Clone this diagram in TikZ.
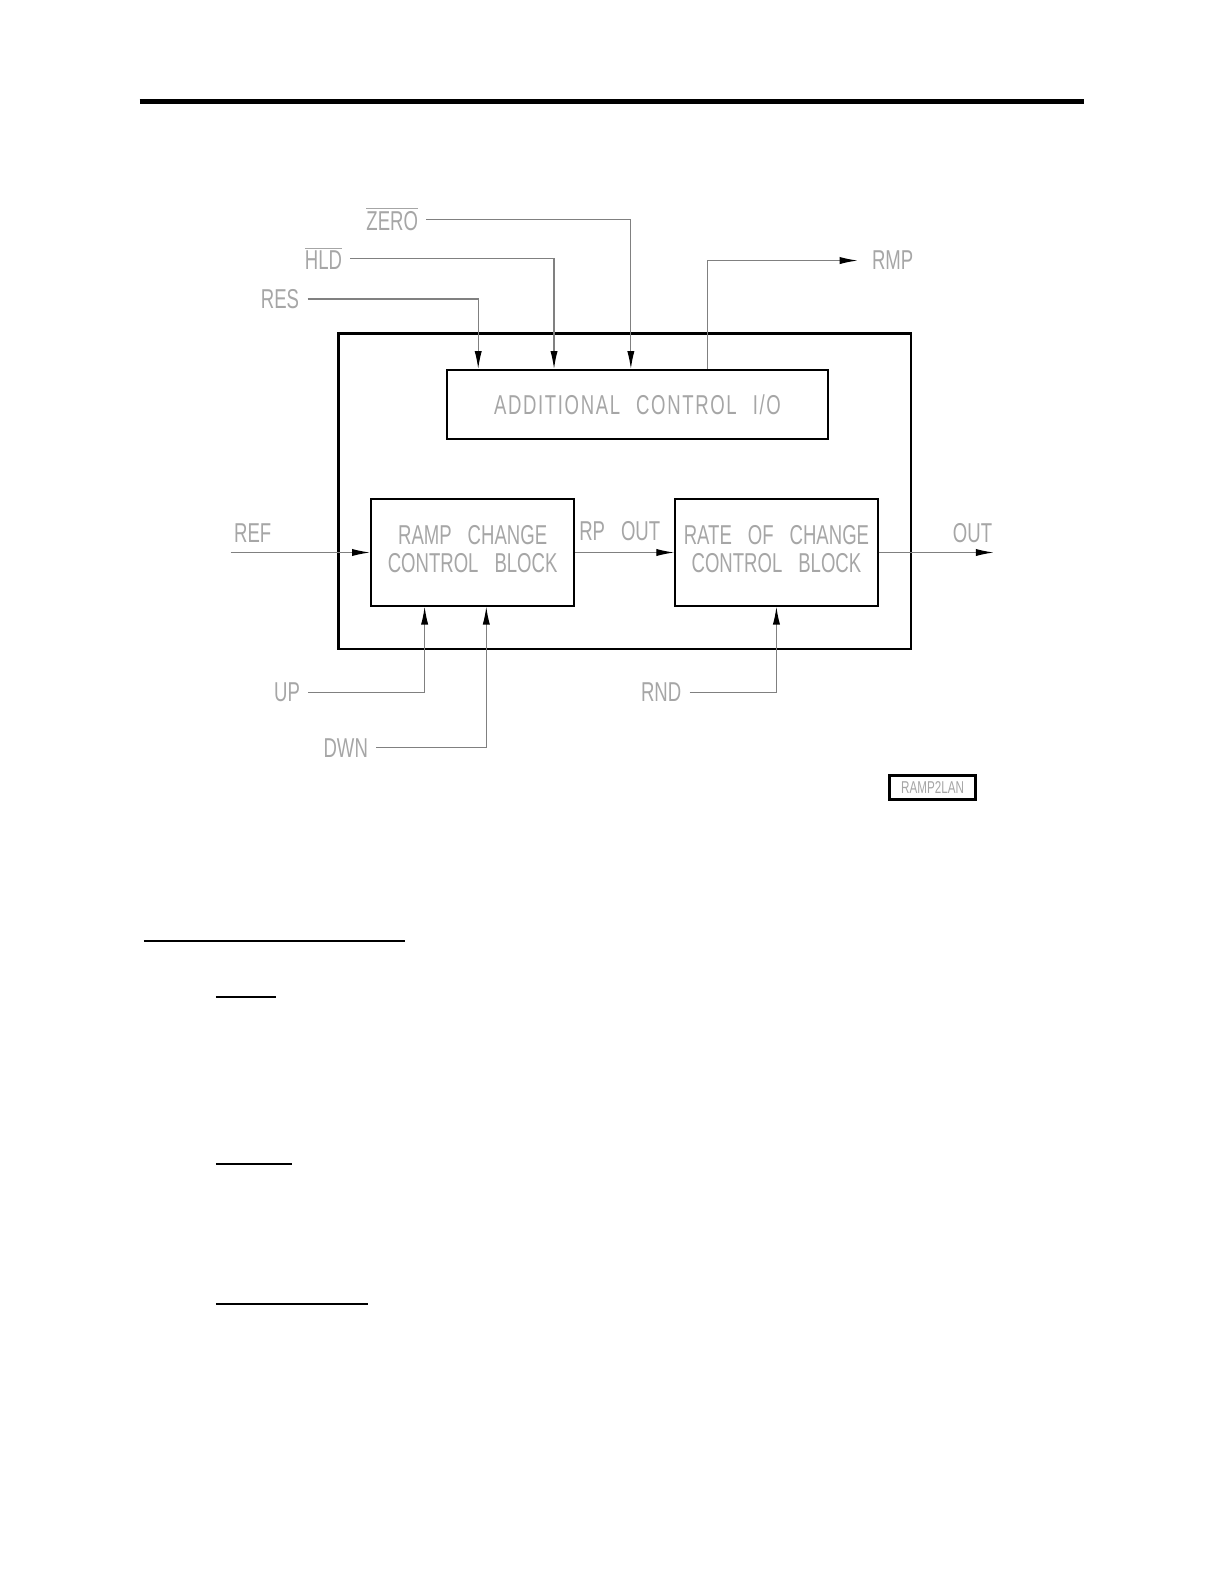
\documentclass[tikz,border=0pt]{standalone}
\usepackage{fontspec}
\setmainfont[FakeStretch=0.68]{Liberation Sans}
\usetikzlibrary{arrows.meta, positioning}
\def\px{0.5055bp}
\def\gap{\hspace{8bp}}
\newcommand{\ovl}[1]{$\overline{\mbox{#1}}$}

\begin{document}
\begin{tikzpicture}[x=\px, y=-\px, font=\fontsize{13.7}{14}\selectfont]
    \tikzstyle{block}=[rectangle, draw=black, line width=1bp, inner sep=0pt, text=black!35, align=center]
    \tikzstyle{pinlabel}=[text=black!35, inner sep=4bp, anchor=base]
    \tikzstyle{sig}=[draw=black!50, line width=0.6bp]
    \tikzstyle{sigin}=[sig, -{Latex[length=9bp, width=3.6bp, color=black]}]

    \useasboundingbox (0,0) rectangle (1210.7,1566.8);

    % page rules
    \draw[line width=2.5bp] (138,100.4) -- (1072,100.4);

    % blocks
    \node[block, line width=1.3bp, minimum width=566*\px, minimum height=312*\px] (chip) at (618,486) {};
    \node[block, minimum width=377*\px, minimum height=68*\px] (aci) at (630.5,400) {\addfontfeatures{LetterSpace=6}ADDITIONAL\gap CONTROL\gap I/O};
    \node[block, minimum width=201*\px, minimum height=105*\px, text depth=3.5bp] (ramp) at (467.5,546.5) {RAMP\gap CHANGE\\CONTROL\gap BLOCK};
    \node[block, minimum width=200*\px, minimum height=105*\px, text depth=3.5bp] (rate) at (768,546.5) {RATE\gap OF\gap CHANGE\\CONTROL\gap BLOCK};

    % signal names
    \node[pinlabel] (zero) at (388,228) {\ovl{ZERO}};
    \node[pinlabel] (hld) at (320,267) {\ovl{HLD}};
    \node[pinlabel] (res) at (277,305) {RES};
    \node[pinlabel] (rmp) at (883,267) {RMP};
    \node[pinlabel] (ref) at (250,537) {REF};
    \node[pinlabel] (rpout) at (613,535) {RP\gap OUT};
    \node[pinlabel] (out) at (962,537) {OUT};
    \node[pinlabel] (up) at (284,694) {UP};
    \node[pinlabel] (dwn) at (342,749) {DWN};
    \node[pinlabel] (rnd) at (654,694) {RND};
    \coordinate (refin) at (228,546.5);
    \coordinate (outend) at (983,546.5);

    \foreach \n/\dx in {res/32, hld/107, zero/183}{
        \draw[sigin] (\n.east) -| ([xshift=\dx*\px]aci.north west);
    }
    \draw[sigin, shorten >=3bp] ([xshift=259*\px]aci.north west) |- (rmp.west);

    \draw[sigin] (refin) -- (ramp.west);
    \draw[sigin] (ramp) -- (rate);
    \draw[sigin] (rate) -- (outend);

    \draw[sigin] (up.east) -| ([xshift=54*\px]ramp.south west);
    \draw[sigin] (dwn.east) -| ([xshift=115*\px]ramp.south west);
    \draw[sigin] (rnd.east) -| (rate.south);

    % drawing tag
    \node[block, line width=1.2bp, minimum width=85*\px, minimum height=24*\px, font=\fontsize{8.6}{9}\selectfont] (tag) at (922.5,779) {RAMP2LAN};

    % text rules below
    \draw[line width=0.8bp] (142.4,930.8) -- (400.6,930.8);
    \draw[line width=1.2bp] (213.6,986.2) -- (273,986.2);
    \draw[line width=0.85bp] (213.6,1151.3) -- (288.8,1151.3);
    \draw[line width=0.85bp] (213.6,1289.8) -- (364,1289.8);
\end{tikzpicture}
\end{document}
